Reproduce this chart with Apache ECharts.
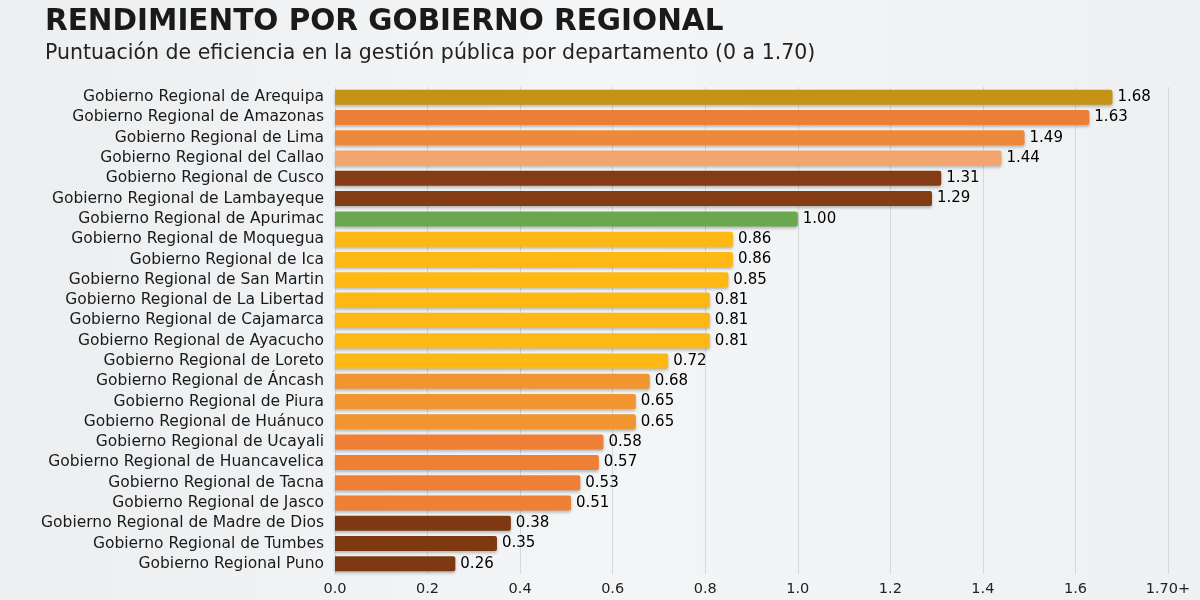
<!DOCTYPE html>
<html>
<head>
<meta charset="utf-8">
<script src="https://cdn.jsdelivr.net/npm/echarts@6/dist/echarts.min.js"></script>
<style>
  html, body { margin: 0; padding: 0; }
  body { background: linear-gradient(90deg, #eceef0 0%, #f4f5f6 50%, #eef0f2 100%); }
  #chart { width: 1200px; height: 600px; }
</style>
</head>
<body>
<div id="chart"></div>
<script>
// regiones (de arriba hacia abajo)
var regiones = [
  'Gobierno Regional de Arequipa', 'Gobierno Regional de Amazonas', 'Gobierno Regional de Lima',
  'Gobierno Regional del Callao', 'Gobierno Regional de Cusco', 'Gobierno Regional de Lambayeque',
  'Gobierno Regional de Apurimac', 'Gobierno Regional de Moquegua', 'Gobierno Regional de Ica',
  'Gobierno Regional de San Martin', 'Gobierno Regional de La Libertad', 'Gobierno Regional de Cajamarca',
  'Gobierno Regional de Ayacucho', 'Gobierno Regional de Loreto', 'Gobierno Regional de Áncash',
  'Gobierno Regional de Piura', 'Gobierno Regional de Huánuco', 'Gobierno Regional de Ucayali',
  'Gobierno Regional de Huancavelica', 'Gobierno Regional de Tacna', 'Gobierno Regional de Jasco',
  'Gobierno Regional de Madre de Dios', 'Gobierno Regional de Tumbes', 'Gobierno Regional Puno'
];
var puntajes = [1.68, 1.63, 1.49, 1.44, 1.31, 1.29, 1.00, 0.86, 0.86, 0.85, 0.81, 0.81,
  0.81, 0.72, 0.68, 0.65, 0.65, 0.58, 0.57, 0.53, 0.51, 0.38, 0.35, 0.26];
var colores = ['#c49214', '#ec7f37', '#ee893c', '#f2a56e', '#833c13', '#833c13',
  '#6aa84f', '#fdb813', '#fdb813', '#fdb813', '#fdb813', '#fdb813',
  '#fdb813', '#fdb813', '#f0952f', '#f0952f', '#f0952f', '#ee7f35',
  '#ee7f35', '#ee7f35', '#ee7f35', '#7e3912', '#7e3912', '#7e3912'];
var ticksX = ['0.0', '0.2', '0.4', '0.6', '0.8', '1.0', '1.2', '1.4', '1.6', '1.70+'];

var fuente = '"DejaVu Sans", "Noto Sans", sans-serif';
var chart = echarts.init(document.getElementById('chart'));

var datos = puntajes.map(function (v, i) {
  return { value: v, itemStyle: { color: colores[i] } };
});

var option = {
  backgroundColor: 'transparent',
  title: {
    text: 'RENDIMIENTO POR GOBIERNO REGIONAL',
    subtext: 'Puntuación de eficiencia en la gestión pública por departamento (0 a 1.70)',
    left: 40,
    top: 2,
    itemGap: 6,
    textStyle: { fontFamily: fuente, fontSize: 29.5, fontWeight: 'bold', color: '#1a1a1a' },
    subtextStyle: { fontFamily: fuente, fontSize: 20.5, color: '#222' }
  },
  grid: { left: 335, right: 32, top: 87, bottom: 26 },
  xAxis: {
    type: 'value',
    min: 0,
    max: 1.8,
    interval: 0.2,
    axisLine: { show: false },
    axisTick: { show: false },
    splitLine: { lineStyle: { color: '#d6d8da', width: 1 } },
    axisLabel: {
      margin: 8,
      fontFamily: fuente,
      fontSize: 14.5,
      color: '#222',
      formatter: function (v) {
        var i = Math.round(v / 0.2);
        return ticksX[i] || '';
      }
    }
  },
  yAxis: {
    type: 'category',
    inverse: true,
    data: regiones,
    axisLine: { show: false },
    axisTick: { show: false },
    axisLabel: { interval: 0, margin: 11, fontFamily: fuente, fontSize: 15.5, color: '#1a1a1a' }
  },
  series: [{
    type: 'bar',
    data: datos,
    barWidth: 15,
    itemStyle: {
      borderRadius: [0, 2, 2, 0],
      shadowColor: 'rgba(0,0,0,0.25)',
      shadowBlur: 3,
      shadowOffsetY: 2
    },
    label: {
      show: true,
      position: 'right',
      distance: 5,
      fontFamily: fuente,
      fontSize: 15,
      color: '#000',
      formatter: function (p) { return p.value.toFixed(2); }
    }
  }]
};
chart.setOption(option);
</script>
</body>
</html>
